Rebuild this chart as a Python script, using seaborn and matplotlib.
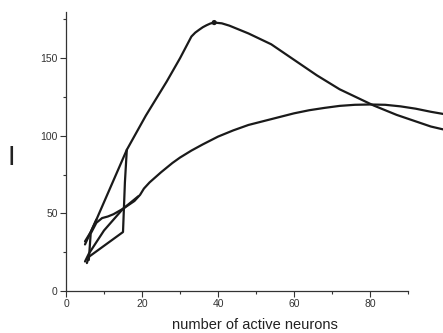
import matplotlib
matplotlib.use("Agg")
import matplotlib.pyplot as plt
import seaborn as sns
import pandas as pd
from matplotlib.ticker import MultipleLocator

sns.set_style("ticks")
plt.rcParams['font.family'] = ['Liberation Sans', 'DejaVu Sans']

# Upper curve (with peak)
upper_x = [5, 8, 16, 21, 26.5, 30, 33, 34, 35, 36, 37, 38, 39, 41, 43, 45, 48, 51, 54, 57, 60,
           63, 66, 69, 72, 75, 78, 81, 84, 87, 90, 93, 96, 99.5]
upper_y = [30, 46, 91, 113, 135, 150, 164, 166.5, 168.3, 170, 171.3, 172.4, 173, 172.5, 171, 169,
           166, 162.5, 159, 154, 149, 144, 139, 134.5, 130, 126.5, 123, 119.5, 116.5, 113.5, 111,
           108.5, 106, 104]

# Lower curve
lower_x = [6, 6.5, 8, 9.5, 11, 12.5, 15, 18, 19.5, 20.5, 22, 25, 28, 30, 33, 36, 40, 44, 48, 52,
           56, 60, 64, 68, 72, 76, 80, 84, 88, 92, 96, 99.5]
lower_y = [20, 37, 44, 47, 48, 49.5, 53, 58, 62, 66, 70, 76.5, 82.5, 86, 90.5, 94.5, 99.5, 103.5,
           107, 109.5, 112, 114.5, 116.5, 118, 119.3, 120, 120.2, 120, 119, 117.5, 115.5, 114]

# Loop branch
loop_x = [5.5, 6, 15, 15.5, 16]
loop_y = [18, 22, 38, 70, 91]

# Straight branch
branch_x = [5, 6, 10, 15, 19]
branch_y = [19, 24, 39, 53, 61]

# Second start of upper branch
start_x = [5, 6.5, 8]
start_y = [32, 38, 46]

peak_x = [39]
peak_y = [173]

fig = plt.figure(figsize=(4.43, 3.33), dpi=100)
ax = fig.add_axes([66/443, 42/333, (443-66)/443, (291-11.7)/333])

kw = dict(color="#1a1a1a", linewidth=1.6, sort=False, estimator=None, ax=ax)
for xs, ys in [(upper_x, upper_y), (lower_x, lower_y), (loop_x, loop_y),
               (branch_x, branch_y), (start_x, start_y)]:
    sns.lineplot(data=pd.DataFrame({"x": xs, "y": ys}), x="x", y="y", **kw)
sns.scatterplot(x=peak_x, y=peak_y, color="#1a1a1a", s=14, ax=ax, zorder=5, edgecolor="none")

ax.set_xlim(0, 99.2)
ax.set_ylim(0, 180)
ax.spines['top'].set_visible(False)
ax.spines['right'].set_visible(False)
ax.spines['bottom'].set_bounds(0, 90)
ax.spines['left'].set_bounds(0, 180)
for s in ['bottom', 'left']:
    ax.spines[s].set_linewidth(0.9)
    ax.spines[s].set_color("#333333")
ax.xaxis.set_major_locator(MultipleLocator(20))
ax.xaxis.set_minor_locator(MultipleLocator(10))
ax.yaxis.set_major_locator(MultipleLocator(50))
ax.yaxis.set_minor_locator(MultipleLocator(25))
ax.tick_params(which='major', length=4, width=0.8, labelsize=7.5, colors="#333333", direction='out', pad=2)
ax.tick_params(which='minor', length=2.5, width=0.8, colors="#333333", direction='out')
ax.set_xticks([0, 20, 40, 60, 80])
ax.set_xlabel("number of active neurons", fontsize=10.5, color="#222222", labelpad=6)
ax.set_ylabel("")
ax.patch.set_alpha(0)
fig.text(11/443, 1 - 158/333, "I", fontsize=20, ha="center", va="center", color="#222222")

fig.savefig("out.png", dpi=100)
